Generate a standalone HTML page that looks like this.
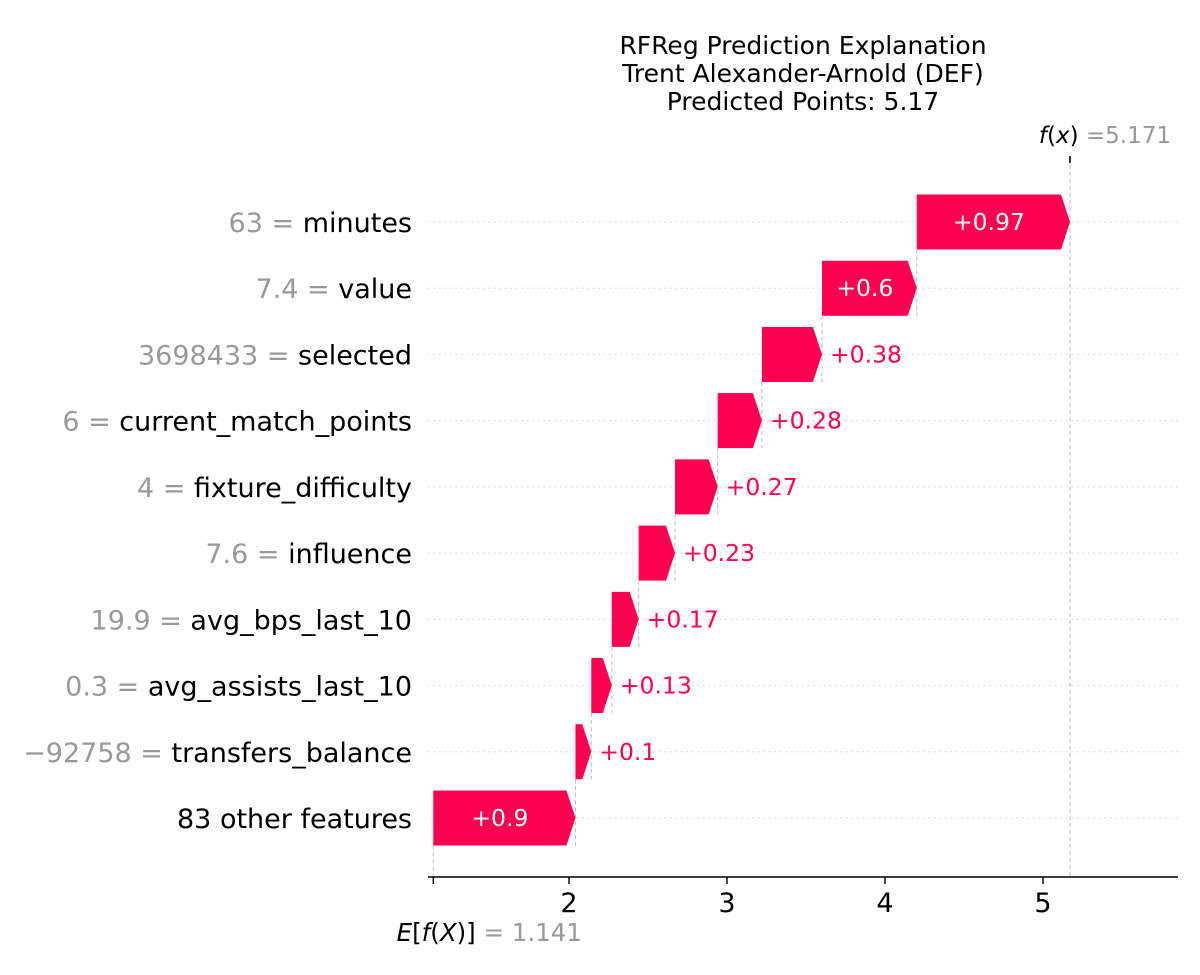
<!DOCTYPE html>
<html><head><meta charset="utf-8"><style>
body{margin:0;background:#fff}
svg{display:block;font-family:"DejaVu Sans","Liberation Sans",sans-serif}
</style></head><body>
<svg id="chart" width="1200" height="975" viewBox="0 0 1200 975">
<g font-size="25" text-anchor="middle" fill="#000">
<text x="803" y="54">RFReg Prediction Explanation</text>
<text x="803" y="82">Trent Alexander-Arnold (DEF)</text>
<text x="803" y="110">Predicted Points: 5.17</text>
</g>
<g id="grid"></g><g id="lines"></g><g id="bars"></g><g id="labels"></g><g id="axis"></g>
</svg>
<script>
const baseValue = 1.141;
const featureNames = ["minutes","value","selected","current_match_points","fixture_difficulty","influence","avg_bps_last_10","avg_assists_last_10","transfers_balance","83 other features"];
const featureValues = ["63","7.4","3698433","6","4","7.6","19.9","0.3","\u221292758",""];
const contributions = [0.97,0.6,0.38,0.28,0.27,0.23,0.17,0.13,0.1,0.9];
const valueLabels = ["+0.97","+0.6","+0.38","+0.28","+0.27","+0.23","+0.17","+0.13","+0.1","+0.9"];
const ticks = [2,3,4,5];

const NS="http://www.w3.org/2000/svg";
const X=v=>569+(v-2)*158;
const rowY=i=>222+i*66.22;
const H=55, PINK="#ff0051";
function mk(tag,attrs,parent){const e=document.createElementNS(NS,tag);for(const k in attrs)e.setAttribute(k,attrs[k]);document.getElementById(parent).appendChild(e);return e;}
const n=contributions.length;
const starts=new Array(n);let acc=baseValue;
for(let i=n-1;i>=0;i--){starts[i]=acc;acc+=contributions[i];}
const fx=acc;
for(let i=0;i<n;i++){
  const y=rowY(i);
  const g=mk('line',{x1:428,x2:1178,y1:y,y2:y,stroke:'#ccc','stroke-width':1,'stroke-dasharray':'1.5,4'},'grid');
  
  
  const x0=X(starts[i]),x1=X(starts[i]+contributions[i]);
  const w=x1-x0, hl=Math.min(9,w);
  const p=mk('polygon',{points:`${x0},${y-H/2} ${x1-hl},${y-H/2} ${x1},${y} ${x1-hl},${y+H/2} ${x0},${y+H/2}`,fill:PINK},'bars');
  
  
  const inside=w>70;
  const t=mk('text',{x:inside?(x0+x1-hl)/2:x1+8,y:y+8,'font-size':23.5,fill:inside?'#fff':PINK,'text-anchor':inside?'middle':'start'},'labels');
  t.textContent=valueLabels[i];
  
  
  const l=mk('text',{x:412,y:y+10,'font-size':27,'text-anchor':'end'},'labels');
  
  
  if(featureValues[i]){const s=document.createElementNS(NS,'tspan');s.setAttribute('fill','#999');s.textContent=featureValues[i]+' = ';l.appendChild(s);}
  const s2=document.createElementNS(NS,'tspan');s2.setAttribute('fill','#000');s2.textContent=featureNames[i];l.appendChild(s2);
  if(i<n-1){const d=mk('line',{x1:x0,x2:x0,y1:y+H/2,y2:rowY(i+1)+H/2,stroke:'#bbb','stroke-width':1,'stroke-dasharray':'4,3'},'lines');
    }
}
const eb=mk('line',{x1:X(baseValue),x2:X(baseValue),y1:rowY(n-1)+H/2,y2:877,stroke:'#bbb','stroke-width':1,'stroke-dasharray':'4,3'},'lines');

const fl=mk('line',{x1:X(fx),x2:X(fx),y1:158,y2:877,stroke:'#bbb','stroke-width':1,'stroke-dasharray':'4,3'},'lines');

const ax=mk('line',{x1:428,x2:1178,y1:877,y2:877,stroke:'#000','stroke-width':1.6},'axis');

for(const t of ticks){
  const tk=mk('line',{x1:X(t),x2:X(t),y1:877,y2:884,stroke:'#000','stroke-width':1.4},'axis');
  
  const tl=mk('text',{x:X(t),y:912,'font-size':27,'text-anchor':'middle'},'axis');
  tl.textContent=t;
}
const bt=mk('line',{x1:X(baseValue),x2:X(baseValue),y1:877,y2:884,stroke:'#000','stroke-width':1.4},'axis');

const et=mk('text',{x:582,y:941,'font-size':24.5,'text-anchor':'end'},'axis');

et.innerHTML='<tspan font-style="italic">E</tspan>[<tspan font-style="italic">f</tspan>(<tspan font-style="italic">X</tspan>)] <tspan fill="#999">= '+baseValue.toFixed(3)+'</tspan>';
const ft=mk('line',{x1:X(fx),x2:X(fx),y1:156,y2:163,stroke:'#000','stroke-width':1.6},'axis');

const fxl=mk('text',{x:1171,y:143,'font-size':23,'text-anchor':'end'},'axis');

fxl.innerHTML='<tspan font-style="italic">f</tspan>(<tspan font-style="italic">x</tspan>)<tspan fill="#999">=5.171</tspan>'.replace('5.171',fx.toFixed(3)).replace('>=','> =');
</script>
</body></html>
